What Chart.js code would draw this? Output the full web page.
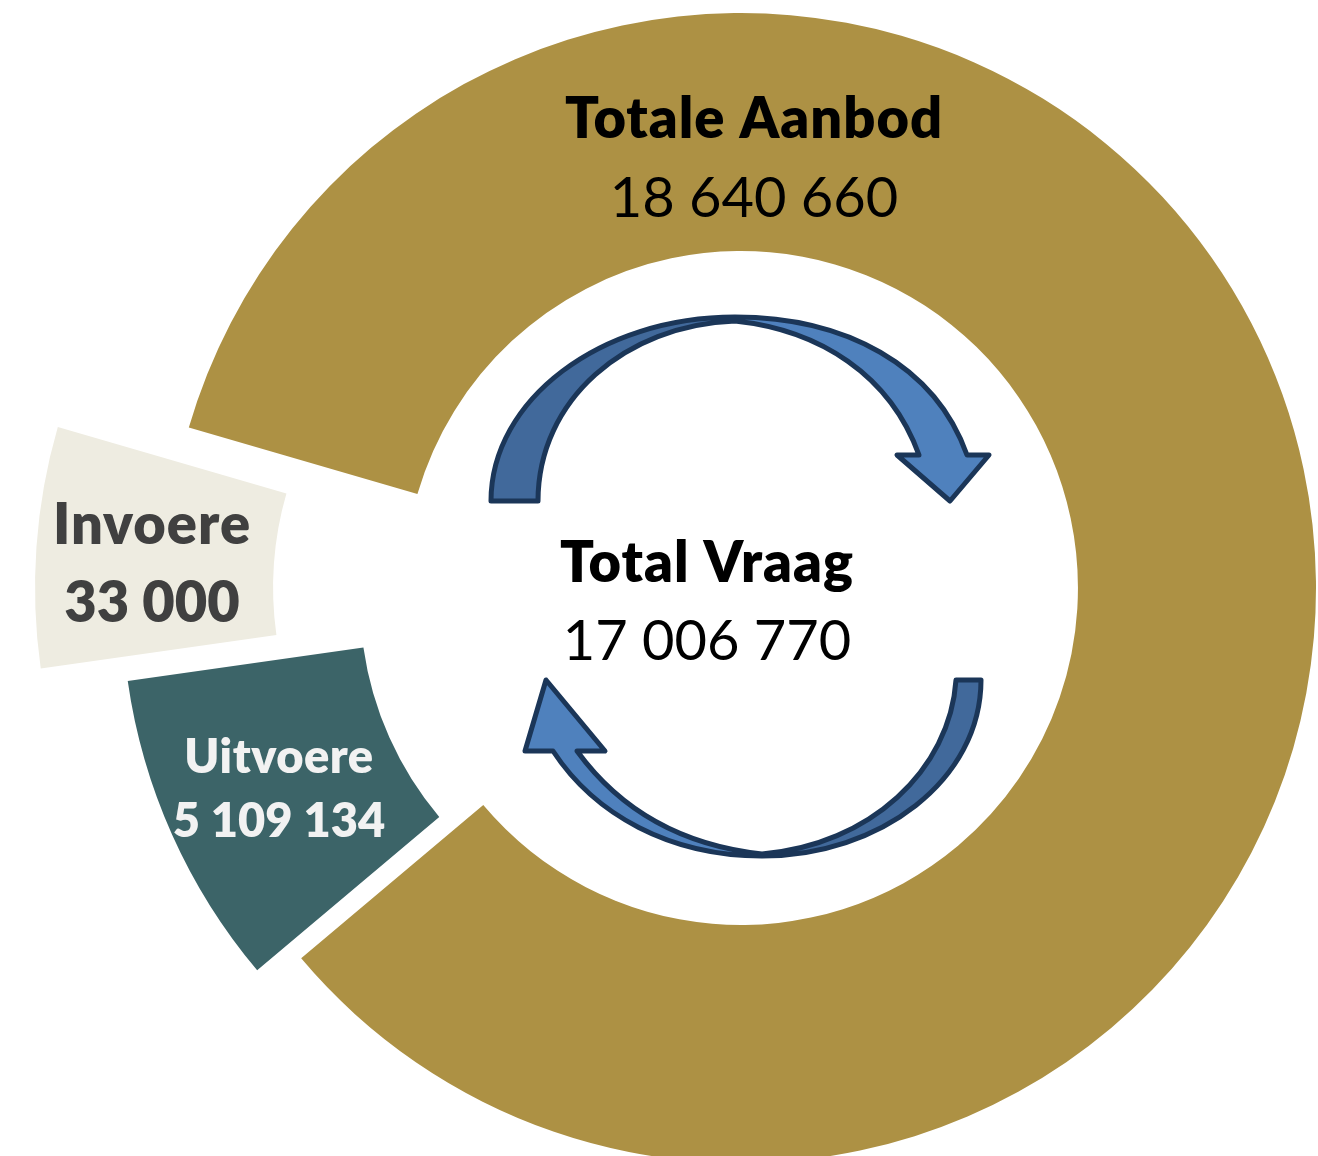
<!DOCTYPE html>
<html>
<head>
<meta charset="utf-8">
<style>html,body{margin:0;padding:0;background:#fff;overflow:hidden}canvas{display:block}</style>
<script src="https://cdn.jsdelivr.net/npm/chart.js@4"></script>
</head>
<body>
<div style="width:1318px;height:1156px"><canvas id="c" width="1318" height="1156"></canvas></div>
<script>
// Slice order runs clockwise from the upper-left edge of the gold ring.
const categories = ['Totale Aanbod', 'Uitvoere', 'Invoere'];
const sliceSizes = [303.7, 32, 24.3];        // drawn share of the ring
const valueLabels = ['18 640 660', '5 109 134', '33 000'];
const sliceColors = ['#AD9144', '#3C6468', '#EEECE1'];
const sliceShiftX = [0, -44, -131];
const sliceShiftY = [0, 12, -0.5];
const centreTitle = 'Total Vraag';
const centreValue = '17 006 770';

const RING = {radius: 575, cutout: '58.6%', rotation: 286.2};
const TEXT = [
  {lines: [categories[0], valueLabels[0]], x: 754, ys: [120, 199], fonts: ['800 56px Lato', '56px Lato'], spacing: ['1px', '0px'], color: '#000000'},
  {lines: [categories[1], valueLabels[1]], x: 279, ys: [758, 822], fonts: ['800 47px Lato', '800 47px Lato'], spacing: ['0.5px', '0px'], color: '#F2F2F2'},
  {lines: [categories[2], valueLabels[2]], x: 152, ys: [526, 604], fonts: ['800 56px Lato', '800 56px Lato'], spacing: ['1px', '0px'], color: '#404040'},
  {lines: [centreTitle, centreValue], x: 707, ys: [564, 642], fonts: ['800 56px Lato', '56px Lato'], spacing: ['1px', '0px'], color: '#000000'}
];

function shape(ctx, fill, build) {
  ctx.beginPath(); build(ctx); ctx.closePath();
  ctx.fillStyle = fill; ctx.fill();
}
const ARROW_DARK = '#41699B', ARROW_LIGHT = '#4F81BD', ARROW_LINE = '#1B3658';

const shiftSlices = {
  id: 'shiftSlices',
  afterDatasetUpdate(chart) {
    chart.getDatasetMeta(0).data.forEach((arc, i) => {
      arc.x += sliceShiftX[i];
      arc.y += sliceShiftY[i];
    });
  }
};

const decorations = {
  id: 'decorations',
  afterDatasetsDraw(chart) {
    const ctx = chart.ctx;
    ctx.save();
    ctx.lineJoin = 'round';
    // upper arrow
    shape(ctx, ARROW_DARK, c => {
      c.moveTo(491, 501); c.bezierCurveTo(491, 400, 600, 317, 735, 317);
      c.lineTo(735, 321); c.bezierCurveTo(625, 325, 538, 400, 538, 501);
    });
    shape(ctx, ARROW_LIGHT, c => {
      c.moveTo(735, 317); c.bezierCurveTo(845, 317, 935, 365, 967, 455);
      c.lineTo(989, 455); c.lineTo(950, 501); c.lineTo(897, 455); c.lineTo(919, 455);
      c.bezierCurveTo(890, 375, 820, 330, 735, 321);
    });
    ctx.strokeStyle = ARROW_LINE; ctx.lineWidth = 5;
    ctx.beginPath();
    ctx.moveTo(491, 501); ctx.bezierCurveTo(491, 400, 600, 317, 735, 317);
    ctx.bezierCurveTo(845, 317, 935, 365, 967, 455);
    ctx.lineTo(989, 455); ctx.lineTo(950, 501); ctx.lineTo(897, 455); ctx.lineTo(919, 455);
    ctx.bezierCurveTo(890, 375, 820, 330, 735, 321);
    ctx.bezierCurveTo(625, 325, 538, 400, 538, 501);
    ctx.closePath(); ctx.stroke();
    // lower arrow
    shape(ctx, ARROW_DARK, c => {
      c.moveTo(981, 680); c.bezierCurveTo(981, 780, 880, 856, 762, 856);
      c.lineTo(762, 854); c.bezierCurveTo(870, 845, 950, 770, 956, 680);
    });
    shape(ctx, ARROW_LIGHT, c => {
      c.moveTo(762, 856); c.bezierCurveTo(670, 856, 595, 815, 553, 751);
      c.lineTo(525, 751); c.lineTo(546, 680); c.lineTo(605, 751); c.lineTo(577, 751);
      c.bezierCurveTo(620, 810, 680, 845, 762, 854);
    });
    ctx.beginPath();
    ctx.moveTo(981, 680); ctx.bezierCurveTo(981, 780, 880, 856, 762, 856);
    ctx.bezierCurveTo(670, 856, 595, 815, 553, 751);
    ctx.lineTo(525, 751); ctx.lineTo(546, 680); ctx.lineTo(605, 751); ctx.lineTo(577, 751);
    ctx.bezierCurveTo(620, 810, 680, 845, 762, 854);
    ctx.bezierCurveTo(870, 845, 950, 770, 956, 680);
    ctx.closePath(); ctx.stroke();
    // labels
    ctx.textAlign = 'center'; ctx.textBaseline = 'middle';
    TEXT.forEach(t => {
      ctx.fillStyle = t.color;
      t.lines.forEach((s, i) => {
        ctx.font = t.fonts[i];
        ctx.letterSpacing = t.spacing[i];
        ctx.fillText(s, t.x, t.ys[i]);
      });
    });
    ctx.restore();
  }
};

new Chart(document.getElementById('c'), {
  type: 'doughnut',
  data: {
    labels: categories,
    datasets: [{
      data: sliceSizes,
      backgroundColor: sliceColors,
      borderWidth: 0,
      hoverOffset: 0
    }]
  },
  options: {
    responsive: false,
    animation: false,
    events: [],
    radius: RING.radius,
    cutout: RING.cutout,
    rotation: RING.rotation,
    layout: {padding: {left: 164, top: 20, right: 0, bottom: 0}},
    plugins: {legend: {display: false}, tooltip: {enabled: false}, title: {display: false}}
  },
  plugins: [shiftSlices, decorations]
});
</script>
</body>
</html>
